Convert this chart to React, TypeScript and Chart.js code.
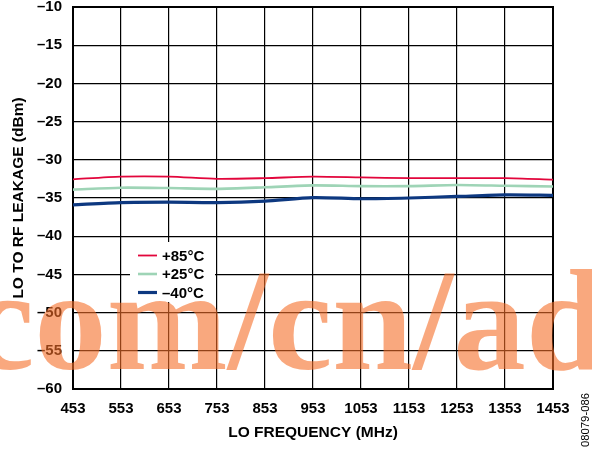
import React, { useEffect, useRef } from 'react';
import { Chart, registerables } from 'chart.js';

Chart.register(...registerables);

// ---- data ----
const freqLabels = ['453', '553', '653', '753', '853', '953', '1053', '1153', '1253', '1353', '1453'];
const plus85 = [-32.55, -32.2, -32.2, -32.5, -32.4, -32.2, -32.3, -32.4, -32.4, -32.4, -32.6];
const plus25 = [-33.9, -33.65, -33.7, -33.8, -33.6, -33.35, -33.45, -33.45, -33.3, -33.4, -33.5];
const minus40 = [-35.9, -35.6, -35.55, -35.6, -35.4, -34.95, -35.1, -35.0, -34.8, -34.6, -34.65];
const seriesLabels = ['+85°C', '+25°C', '\u201340°C'];
const seriesColors = ['#E2063C', '#9ED4B6', '#0D3880'];
const seriesWidths = [1.8, 2.6, 3.2];
const yMin = -60;
const yMax = -10;
const yStep = 5;
const xTitle = 'LO FREQUENCY (MHz)';
const yTitle = 'LO TO RF LEAKAGE (dBm)';
const watermarkText = 'com/cn/ad';
const figureId = '08079-086';

const SANS = '"Liberation Sans", Arial, Helvetica, sans-serif';

const frameAndLegend = {
  id: 'frameAndLegend',
  beforeDatasetsDraw(chart: any) {
    const { ctx, chartArea } = chart;
    ctx.save();
    ctx.strokeStyle = '#000';
    ctx.lineWidth = 2;
    ctx.strokeRect(chartArea.left, chartArea.top, chartArea.right - chartArea.left, chartArea.bottom - chartArea.top);
    ctx.restore();
  },
  afterDatasetsDraw(chart: any) {
    const { ctx, chartArea } = chart;
    const bx = chartArea.left + 57;
    const by = chartArea.top + 235;
    ctx.save();
    ctx.fillStyle = '#fff';
    ctx.fillRect(bx, by, 85, 60);
    ctx.font = `bold 15px ${SANS}`;
    ctx.textBaseline = 'middle';
    ctx.textAlign = 'left';
    chart.data.datasets.forEach((ds: any, i: number) => {
      const ry = by + 13.5 + i * 18.5;
      ctx.strokeStyle = ds.borderColor;
      ctx.lineWidth = ds.borderWidth;
      ctx.beginPath();
      ctx.moveTo(bx + 8, ry);
      ctx.lineTo(bx + 27, ry);
      ctx.stroke();
      ctx.fillStyle = '#000';
      ctx.fillText(ds.label, bx + 32, ry + 1);
    });
    ctx.restore();
  },
  afterDraw(chart: any) {
    const { ctx } = chart;
    ctx.save();
    ctx.font = `bold 145px "Liberation Serif", "Times New Roman", serif`;
    ctx.fillStyle = 'rgba(245,110,40,0.6)';
    ctx.textAlign = 'left';
    ctx.textBaseline = 'alphabetic';
    ctx.fillText(watermarkText, -30, 369);
    ctx.restore();

    ctx.save();
    ctx.translate(586, 420);
    ctx.rotate(-Math.PI / 2);
    ctx.font = `10px ${SANS}`;
    ctx.fillStyle = '#000';
    ctx.textAlign = 'center';
    ctx.textBaseline = 'middle';
    const w = ctx.measureText(figureId).width;
    ctx.scale(54 / w, 1);
    ctx.fillText(figureId, 0, 0);
    ctx.restore();
  },
};

export default function App() {
  const ref = useRef<HTMLCanvasElement>(null);
  useEffect(() => {
    if (!ref.current) return;
    const tickFont = { family: SANS, size: 15, weight: 'bold' as const };
    const titleFont = { family: SANS, size: 15.5, weight: 'bold' as const };
    const series = [plus85, plus25, minus40];
    const chart = new Chart(ref.current, {
      type: 'line',
      data: {
        labels: freqLabels,
        datasets: series.map((d, i) => ({
          label: seriesLabels[i],
          data: d,
          borderColor: seriesColors[i],
          backgroundColor: seriesColors[i],
          borderWidth: seriesWidths[i],
          pointRadius: 0,
          tension: 0.25,
          fill: false,
        })),
      },
      options: {
        responsive: false,
        animation: false,
        layout: { padding: { left: 0, top: 7, right: 39, bottom: 0 } },
        plugins: { legend: { display: false }, tooltip: { enabled: false } },
        scales: {
          x: {
            type: 'category',
            offset: false,
            grid: { color: '#000', lineWidth: 1.2, drawTicks: false, offset: false },
            border: { color: '#000', width: 2 },
            ticks: { color: '#000', font: tickFont, padding: 11, maxRotation: 0, autoSkip: false },
            title: { display: true, text: xTitle, color: '#000', font: titleFont, padding: { top: 0, bottom: 7.7 } },
            afterFit: (s: any) => {
              s.height = 61;
              s.paddingLeft = 0;
              s.paddingRight = 0;
            },
          },
          y: {
            min: yMin,
            max: yMax,
            grid: { color: '#000', lineWidth: 1.2, drawTicks: false },
            border: { color: '#000', width: 2 },
            ticks: {
              stepSize: yStep,
              color: '#000',
              font: tickFont,
              padding: 11,
              callback: (v: any) => String(v).replace('-', '\u2013'),
            },
            title: { display: true, text: yTitle, color: '#000', font: titleFont, padding: { top: 9.2, bottom: 0 } },
            afterFit: (s: any) => {
              s.width = 73;
              s.paddingTop = 0;
              s.paddingBottom = 0;
            },
          },
        },
      },
      plugins: [frameAndLegend],
    });
    return () => chart.destroy();
  }, []);
  return (
    <div style={{ position: 'fixed', left: 0, top: 0, width: 592, height: 450, background: '#fff' }}>
      <canvas ref={ref} width={592} height={450} />
    </div>
  );
}
